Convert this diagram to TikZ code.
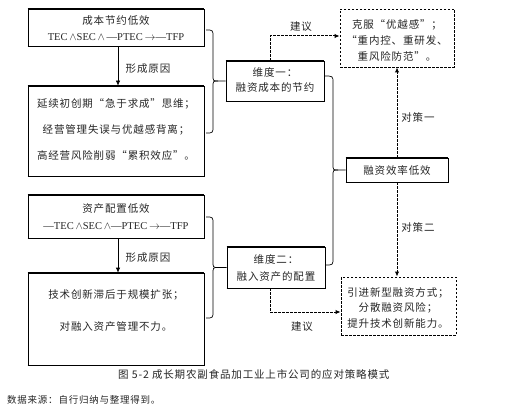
\documentclass[tikz,border=0pt]{standalone}
\usepackage{fontspec}
\setmainfont{Noto Sans CJK SC}[LetterSpace=8]
\newfontfamily\tnr{Liberation Serif}
\usetikzlibrary{arrows.meta,calc}
\begin{document}
\begin{tikzpicture}[x=1pt,y=-1pt,
  sbox/.style={draw, line width=0.7pt, inner sep=0pt},
  dbox/.style={draw, line width=0.9pt, dash pattern=on 2.5pt off 1.5pt, inner sep=0pt},
  txt/.style={align=center, inner sep=0pt, text=black!85, font=\fontsize{10.5}{16}\selectfont},
  lab/.style={inner sep=0pt, text=black!85, font=\fontsize{10.5}{12}\selectfont},
  arr/.style={line width=0.7pt, -{Latex[length=5pt,width=4.5pt]}},
  darr/.style={line width=1pt, dash pattern=on 2.5pt off 1.5pt, -{Latex[length=5pt,width=4.5pt]}},
  brc/.style={line width=0.7pt}]
\fill[white] (0,0) rectangle (505,406);
\useasboundingbox (0,0) rectangle (505,406);
% boxes
\node[sbox, minimum width=176pt, minimum height=37pt] (A) at (116,27.5) {};
\node[sbox, minimum width=176pt, minimum height=90pt] (B) at (116,131) {};
\node[sbox, minimum width=176pt, minimum height=43pt] (C) at (116,216.5) {};
\node[sbox, minimum width=176pt, minimum height=92pt] (D) at (116,319) {};
\node[sbox, minimum width=98pt, minimum height=40pt] (d1) at (275,81) {};
\node[sbox, minimum width=98pt, minimum height=41pt] (d2) at (276,267.5) {};
\node[sbox, minimum width=102pt, minimum height=24pt] (eff) at (397,170) {};
\node[dbox, minimum width=114pt, minimum height=58pt] (kn) at (397,38) {};
\node[dbox, minimum width=115pt, minimum height=58pt] (kb) at (398.5,306) {};
\foreach \n in {A,B,C,D,d1,d2,eff} {\draw[line width=1.5pt] (\n.north west) -- (\n.north east) (\n.south west) -- (\n.south east);}
% texts
\node[txt] (At) at (116,28) {成本节约低效\\{\tnr TEC\,$\wedge$SEC\,$\wedge$\,—PTEC\,$\rightarrow$—TFP}};
\node[txt, font=\fontsize{10.5}{26}\selectfont] (Bt) at (116,130) {延续初创期“急于求成”思维；\\经营管理失误与优越感背离；\\高经营风险削弱“累积效应”。};
\node[txt, font=\fontsize{10.5}{17}\selectfont] (Ct) at (116,216.5) {资产配置低效\\{\tnr —TEC\,$\wedge$SEC\,$\wedge$—PTEC\,$\rightarrow$—TFP}};
\node[txt, font=\fontsize{10.5}{32}\selectfont] (Dt) at (116,311) {技术创新滞后于规模扩张；\\对融入资产管理不力。};
\node[txt, font=\fontsize{10.5}{15}\selectfont] (d1t) at (275,80.5) {维度一：\\融资成本的节约};
\node[txt, font=\fontsize{10.5}{17}\selectfont] (d2t) at (276,268.5) {维度二：\\融入资产的配置};
\node[txt] (efft) at (397,170.5) {融资效率低效};
\node[txt, font=\fontsize{10.5}{16}\selectfont] (knt) at (397,40) {克服“优越感”；\\“重内控、重研发、\\重风险防范”。};
\node[txt, font=\fontsize{10.5}{15.5}\selectfont] (kbt) at (398,307.5) {引进新型融资方式；\\分散融资风险；\\提升技术创新能力。};
% labels
\node[lab] (l1) at (148,69) {形成原因};
\node[lab] (l2) at (148,258) {形成原因};
\node[lab] (l3) at (301,27) {建议};
\node[lab] (l4) at (302,327) {建议};
\node[lab] (l5) at (418,117) {对策一};
\node[lab] (l6) at (418,227) {对策二};
\node[lab, anchor=west] (cap) at (118,375) {图 5-2\ 成长期农副食品加工业上市公司的应对策略模式};
\node[lab, anchor=west, font=\fontsize{9.5}{11}\selectfont] (src) at (7,400) {数据来源：自行归纳与整理得到。};
% braces
\coordinate (b1t) at (206,30);
\coordinate (b1b) at (206,133);
\coordinate (b2t) at (206,217);
\coordinate (b2b) at (206,318);
\coordinate (b3t) at ($(d1.east)+(0,-5)$);
\coordinate (b3b) at ($(d2.east)+(0,-2.5)$);
\draw[brc] (b1t) .. controls (213,30) .. (213,37) -- (213,75) .. controls (213,81) .. (218,81) -- (d1.west);
\draw[brc] (b1b) .. controls (213,133) .. (213,126) -- (213,87) .. controls (213,81) .. (218,81);
\draw[brc] (b2t) .. controls (213,217) .. (213,224) -- (213,261) .. controls (213,267.5) .. (218,267.5) -- (d2.west);
\draw[brc] (b2b) .. controls (213,318) .. (213,311) -- (213,274) .. controls (213,267.5) .. (218,267.5);
\draw[brc] (b3t) .. controls (333,76) .. (333,83) -- (333,164) .. controls (333,170) .. (338,170) -- (eff.west);
\draw[brc] (b3b) .. controls (333,265) .. (333,258) -- (333,176) .. controls (333,170) .. (338,170);
% arrows
\draw[arr] ($(A.south)+(2,0)$) -- ($(B.north)+(2,0)$);
\draw[arr] ($(C.south)+(2,0)$) -- ($(D.north)+(2,0)$);
\draw[darr] ($(d1.north)+(-5,0)$) |- ($(kn.west)+(0,-2)$);
\draw[darr] (eff.north) -- (kn.south);
\draw[darr] (eff.south) -- (eff.south |- kb.north);
\draw[darr] ($(d2.south)+(-6,0)$) |- ($(kb.west)+(0,6)$);
\end{tikzpicture}
\end{document}
